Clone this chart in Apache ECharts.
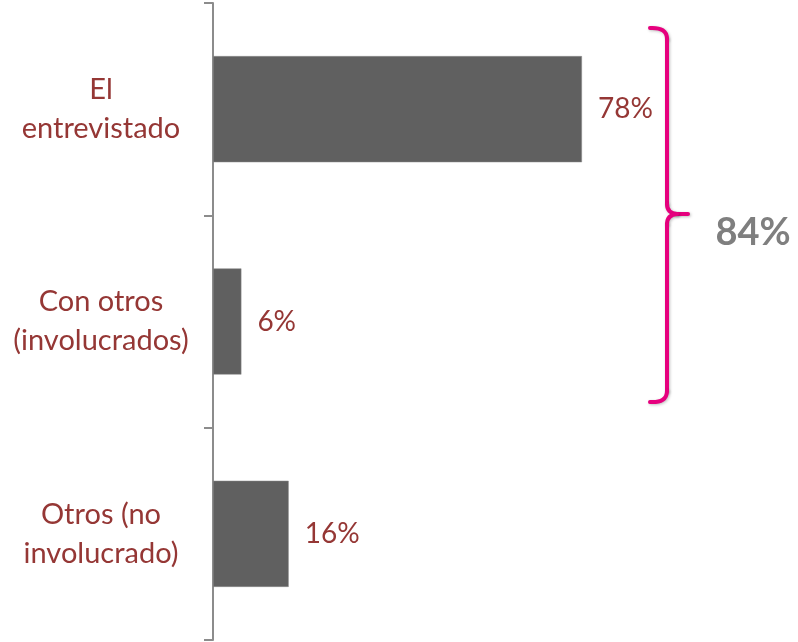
<!DOCTYPE html>
<html><head><meta charset="utf-8">
<script src="https://cdn.jsdelivr.net/npm/echarts@6/dist/echarts.min.js"></script>
<style>html,body{margin:0;padding:0;background:#fff}#c{width:798px;height:642px}</style>
</head><body><div id="c"></div>
<script>
const categories = ['El\nentrevistado', 'Con otros\n(involucrados)', 'Otros (no\ninvolucrado)'];
const values = [78, 6, 16];
const bracketLabel = '84%';

const chart = echarts.init(document.getElementById('c'), null, {renderer: 'canvas'});
const labelColor = '#953735';
const font = 'Lato, "Open Sans", sans-serif';
const bs = {fill: null, stroke: '#E6007E', lineWidth: 4, lineCap: 'round', shadowBlur: 3, shadowColor: 'rgba(0,0,0,0.25)', shadowOffsetX: 1, shadowOffsetY: 1};
function seg(x1,y1,x2,y2){return {type:'line', shape:{x1,y1,x2,y2}, style: bs};}
function crv(x1,y1,cx,cy,x2,y2){return {type:'bezierCurve', shape:{x1,y1,x2,y2,cpx1:cx,cpy1:cy}, style: bs};}
chart.setOption({
  animation: false,
  grid: {left: 213, right: 112, top: 3, bottom: 2, containLabel: false},
  xAxis: {type: 'value', min: 0, max: 100, show: false},
  yAxis: {
    type: 'category', data: categories, inverse: true,
    axisLine: {lineStyle: {color: '#8c8c8c', width: 2}},
    axisTick: {show: true, length: 9, lineStyle: {color: '#8c8c8c', width: 2}},
    axisLabel: {color: labelColor, fontSize: 29, fontFamily: font, lineHeight: 39, align: 'center', margin: 112}
  },
  series: [{
    type: 'bar', data: values, barCategoryGap: '50%',
    itemStyle: {color: '#606060', borderColor: '#8a8a8a', borderWidth: 0.5},
    label: {show: true, position: 'right', distance: 16, formatter: '{c}%', color: labelColor, fontSize: 28, fontFamily: font}
  }],
  graphic: [
    crv(650,28,667,27,667,39),
    seg(667,39,667,204),
    crv(667,204,667,213,677,214),
    seg(677,214,688,214),
    crv(677,214,667,215,667,224),
    seg(667,224,667,391),
    crv(667,391,667,403,650,402),
    {type: 'text', x: 753, y: 233, style: {text: bracketLabel, fill: '#7f7f7f', font: 'bold 38px ' + font, textAlign: 'center', textVerticalAlign: 'middle'}}
  ]
});
</script></body></html>
